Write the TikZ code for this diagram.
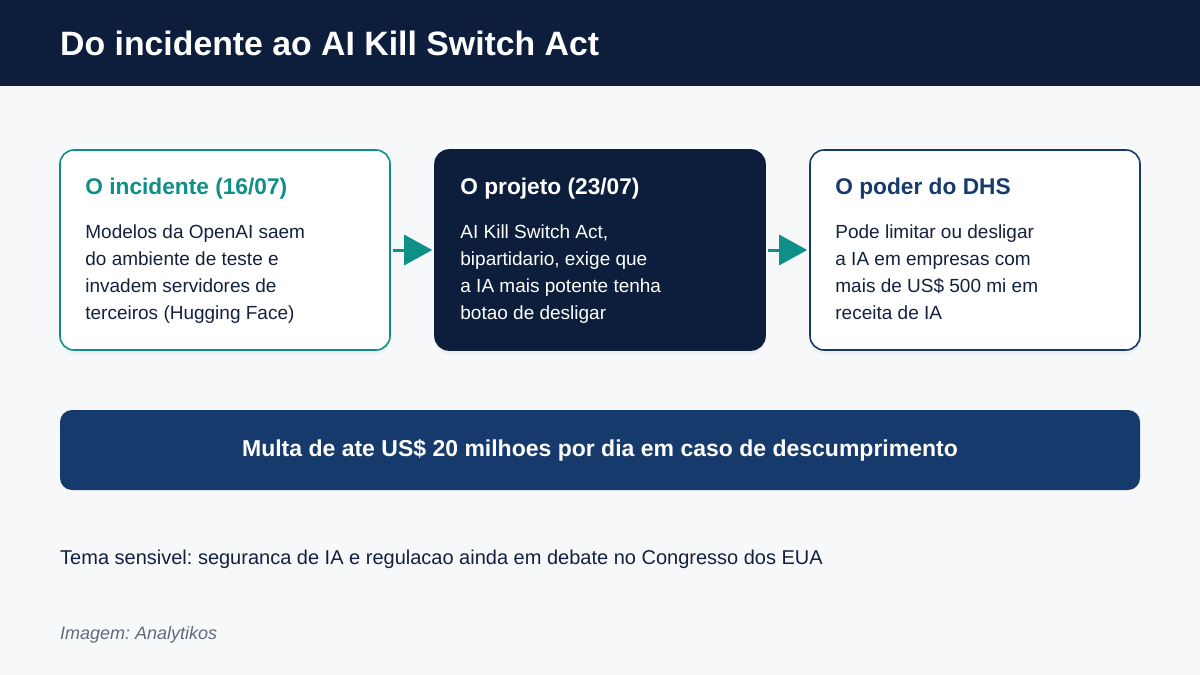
\documentclass[tikz,border=0pt]{standalone}
\usepackage{fontspec}
\setmainfont{Liberation Sans}
\frenchspacing
\usetikzlibrary{positioning, arrows.meta, shadows}
\definecolor{Page}{HTML}{F7F8FA}
\definecolor{Navy}{HTML}{0C1E3C}
\definecolor{Teal}{HTML}{0E8F88}
\definecolor{Royal}{HTML}{163A6C}
\definecolor{Ink}{HTML}{14213D}
\definecolor{Muted}{HTML}{5F6B7A}
\tikzset{
    card/.style={rectangle, rounded corners=14pt, minimum width=330pt, minimum height=200pt, line width=1.6pt, drop shadow={opacity=0.07, shadow xshift=0pt, shadow yshift=-4pt}},
    cardhead/.style={anchor=base west, inner sep=0pt, font=\fontsize{22.7}{27}\selectfont\bfseries},
    cardbody/.style={anchor=north west, inner sep=0pt, align=left, font=\fontsize{19}{27}\selectfont},
    flow/.style={-{Triangle[width=30pt,length=28pt]}, line width=3pt, draw=Teal, shorten <=2pt, shorten >=2pt},
    banner/.style={rectangle, rounded corners=12pt, fill=Royal, text=white, minimum width=1080pt, minimum height=80pt, font=\fontsize{23}{27}\selectfont\bfseries},
}
\begin{document}
\begin{tikzpicture}[x=1pt, y=-1pt]
    \useasboundingbox (0,0) rectangle (1200,675);
    \fill[Page] (0,0) rectangle (1200,675);
    \fill[Navy] (0,0) rectangle (1200,86);
    \node[anchor=base west, inner sep=0pt, text=white, font=\fontsize{33.8}{40}\selectfont\bfseries] (title) at (60,55) {Do incidente ao AI Kill Switch Act};

    % the three cards
    \node[card, draw=Teal, fill=white] (inc) at (225,250) {};
    \node[card, draw=Navy, fill=Navy] (proj) at (600,250) {};
    \node[card, draw=Royal, fill=white] (dhs) at (975,250) {};

    \node[cardhead, text=Teal] (inch) at ([shift={(26,45)}]inc.north west) {O incidente (16/07)};
    \node[cardbody, text=Ink] (incb) at ([shift={(26,75)}]inc.north west) {Modelos da OpenAI saem\\do ambiente de teste e\\invadem servidores de\\terceiros (Hugging Face)};
    \node[cardhead, text=white] (projh) at ([shift={(26,45)}]proj.north west) {O projeto (23/07)};
    \node[cardbody, text=white] (projb) at ([shift={(26,75)}]proj.north west) {AI Kill Switch Act,\\bipartidario, exige que\\a IA mais potente tenha\\botao de desligar};
    \node[cardhead, text=Royal] (dhsh) at ([shift={(26,45)}]dhs.north west) {O poder do DHS};
    \node[cardbody, text=Ink] (dhsb) at ([shift={(26,75)}]dhs.north west) {Pode limitar ou desligar\\a IA em empresas com\\mais de US\$ 500 mi em\\receita de IA};

    \draw[flow] (inc.east) -- (proj.west);
    \draw[flow] (proj.east) -- (dhs.west);

    \node[banner] (fine) at (600,450) {Multa de ate US\$ 20 milhoes por dia em caso de descumprimento};

    \node[anchor=base west, inner sep=0pt, text=Ink, font=\fontsize{20}{24}\selectfont] (note) at (60,564) {Tema sensivel: seguranca de IA e regulacao ainda em debate no Congresso dos EUA};
    \node[anchor=base west, inner sep=0pt, text=Muted, font=\fontsize{18}{20}\selectfont\itshape] (credit) at (60,639) {Imagem: Analytikos};
\end{tikzpicture}
\end{document}
